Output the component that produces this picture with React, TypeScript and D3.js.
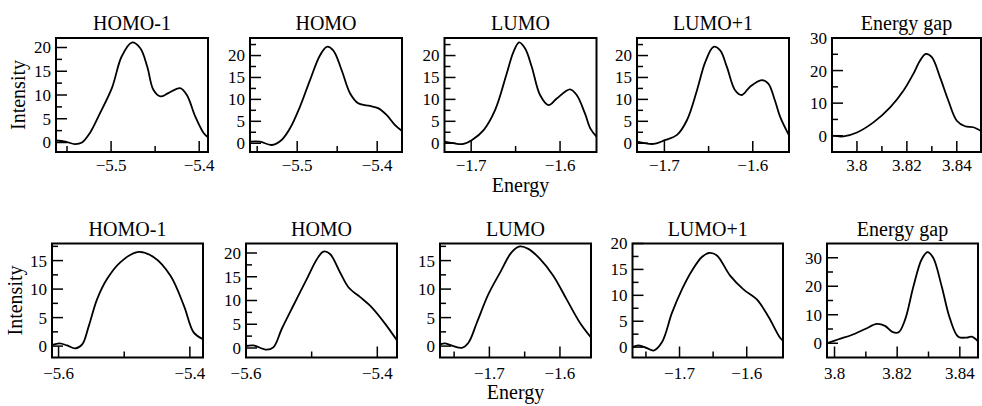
import * as d3 from "d3"

type Pt = [number, number]

const titles = ["HOMO-1", "HOMO", "LUMO", "LUMO+1", "Energy gap"]

// curves: [energy, intensity]
const homo1Top: Pt[] = [
  [-5.5625, 0.42], [-5.552, 0.2], [-5.541, -0.34], [-5.533, 0], [-5.524, 2], [-5.5125, 6.2],
  [-5.499, 11.5], [-5.488, 18.1], [-5.4765, 21.05], [-5.467, 19.9], [-5.459, 16], [-5.452, 11.1],
  [-5.444, 9.7], [-5.435, 10.4], [-5.4216, 11.45], [-5.414, 10], [-5.4045, 5.5], [-5.395, 2], [-5.39, 1.1],
]
const homoTop: Pt[] = [
  [-5.559, 0.36], [-5.5466, 0.36], [-5.532, -0.4], [-5.5195, 0.75], [-5.509, 3.4], [-5.4966, 8.3],
  [-5.484, 14.4], [-5.4716, 20], [-5.463, 22], [-5.455, 21.2], [-5.4445, 16.7], [-5.434, 11.4],
  [-5.4237, 9.1], [-5.409, 8.5], [-5.399, 8], [-5.388, 6.4], [-5.378, 4.2], [-5.369, 2.8],
]
const lumoTop: Pt[] = [
  [-1.73, 0.36], [-1.72, 0], [-1.7087, -0.16], [-1.699, 0.75], [-1.686, 3], [-1.673, 7.6],
  [-1.66, 15.9], [-1.6525, 20.8], [-1.646, 23], [-1.6393, 21.6], [-1.6318, 17.4], [-1.6225, 11],
  [-1.613, 8.7], [-1.6037, 10.2], [-1.5888, 12.3], [-1.5813, 11], [-1.572, 6.8], [-1.566, 3.4], [-1.559, 1.5],
]
const lumo1Top: Pt[] = [
  [-1.7308, 0.36], [-1.712, -0.16], [-1.6989, 0.75], [-1.6857, 1.9], [-1.6744, 5.3], [-1.6631, 12.1],
  [-1.6538, 18.5], [-1.6444, 22], [-1.6369, 21.2], [-1.6293, 17.4], [-1.62, 12.1], [-1.6124, 11],
  [-1.603, 12.9], [-1.5899, 14.4], [-1.5824, 13.6], [-1.575, 9.8], [-1.569, 6], [-1.559, 1.8],
]
const gapTop: Pt[] = [
  [3.79, 0], [3.7946, -0.2], [3.8, 1], [3.8066, 4.1], [3.8133, 8.7], [3.8186, 13.8], [3.8226, 19],
  [3.8253, 23.1], [3.8276, 25.1], [3.83, 24.1], [3.8333, 17.9], [3.8366, 10.8], [3.84, 4.6],
  [3.8433, 2.9], [3.8466, 2.6], [3.85, 1.3],
]
const homo1Bottom: Pt[] = [
  [-5.61, 0.18], [-5.5985, 0.48], [-5.587, 0.12], [-5.5745, -0.4], [-5.564, 0.3], [-5.554, 3.5],
  [-5.5414, 8.2], [-5.526, 11.8], [-5.506, 14.7], [-5.48, 16.5], [-5.455, 15.6], [-5.4295, 12.35],
  [-5.409, 7.06], [-5.394, 2.36], [-5.38, 1.2],
]
const homoBottom: Pt[] = [
  [-5.6, 0.42], [-5.589, 0.55], [-5.5684, -0.36], [-5.558, 0.2], [-5.5456, 4], [-5.528, 8.9],
  [-5.5075, 14.5], [-5.492, 18.7], [-5.482, 20.3], [-5.472, 19.8], [-5.4567, 15.9], [-5.444, 12.8],
  [-5.426, 10.7], [-5.411, 8.9], [-5.39, 5.45], [-5.37, 1.6],
]
const lumoBottom: Pt[] = [
  [-1.7697, 0.3], [-1.7627, 0.48], [-1.751, 0], [-1.739, -0.3], [-1.7297, 0.6], [-1.7178, 4.1],
  [-1.7014, 9.1], [-1.6849, 12.9], [-1.6683, 16.5], [-1.6566, 17.5], [-1.6448, 17.06], [-1.6283, 15.3],
  [-1.6095, 12.35], [-1.5905, 8.2], [-1.5717, 4.1], [-1.556, 1.5],
]
const lumo1Bottom: Pt[] = [
  [-1.77, 0], [-1.761, 0.33], [-1.7484, -0.2], [-1.7386, -0.65], [-1.726, 1], [-1.7113, 6.6],
  [-1.6964, 11.15], [-1.6816, 14.75], [-1.6667, 17.4], [-1.6554, 18.2], [-1.6444, 17.7], [-1.6247, 13.8],
  [-1.6049, 11.15], [-1.585, 9.2], [-1.5678, 5.9], [-1.5514, 2], [-1.546, 1.2],
]
const gapBottom: Pt[] = [
  [3.7976, 0], [3.8013, 1.4], [3.8055, 2.9], [3.8098, 5], [3.8135, 6.8], [3.8161, 6.1], [3.8183, 4.1],
  [3.8204, 3.8], [3.8225, 8.2], [3.8252, 20], [3.8278, 29.4], [3.8297, 32], [3.8315, 30], [3.8342, 20],
  [3.8368, 8.8], [3.8395, 2.3], [3.8422, 2], [3.8438, 2.3], [3.8459, 0.56],
]

// tick values
const homoXTicks = [-5.5, -5.4]
const homoXMinor = [-5.55, -5.45]
const homoXTicksB = [-5.6, -5.4]
const homoXMinorB = [-5.5]
const lumoXTicks = [-1.7, -1.6]
const lumoXMinor = [-1.75, -1.65]
const gapXTicks = [3.8, 3.82, 3.84]
const gapXMinor = [3.81, 3.83]
const yTicks15 = [0, 5, 10, 15]
const yTicks20 = [0, 5, 10, 15, 20]
const yMinor17 = [2.5, 7.5, 12.5, 17.5]
const yMinor22 = [2.5, 7.5, 12.5, 17.5, 22.5]
const gapYTicks = [0, 10, 20, 30]
const gapYMinor = [5, 15, 25]

type Panel = {
  data: Pt[]
  x: [number, number]
  y: [number, number]
  xt: number[]
  xm: number[]
  yt: number[]
  ym: number[]
  box: [number, number]
}

const rows: { top: number; bottom: number; labelDy: number; panels: Panel[] }[] = [
  {
    top: 38, bottom: 152, labelDy: 19,
    panels: [
      { data: homo1Top, x: [-5.5625, -5.39], y: [-2, 22], xt: homoXTicks, xm: homoXMinor, yt: yTicks20, ym: yMinor17, box: [56, 208] },
      { data: homoTop, x: [-5.559, -5.369], y: [-2, 24], xt: homoXTicks, xm: homoXMinor, yt: yTicks20, ym: yMinor22, box: [250, 402] },
      { data: lumoTop, x: [-1.73, -1.559], y: [-2, 24], xt: lumoXTicks, xm: lumoXMinor, yt: yTicks20, ym: yMinor22, box: [444.5, 596.5] },
      { data: lumo1Top, x: [-1.731, -1.559], y: [-2, 24], xt: lumoXTicks, xm: lumoXMinor, yt: yTicks20, ym: yMinor22, box: [637, 789] },
      { data: gapTop, x: [3.79, 3.8497], y: [-5, 30], xt: gapXTicks, xm: gapXMinor, yt: gapYTicks, ym: gapYMinor, box: [832, 981] },
    ],
  },
  {
    top: 243.5, bottom: 357.5, labelDy: 21,
    panels: [
      { data: homo1Bottom, x: [-5.61, -5.38], y: [-2, 18], xt: homoXTicksB, xm: homoXMinorB, yt: yTicks15, ym: yMinor17, box: [52, 203] },
      { data: homoBottom, x: [-5.6, -5.37], y: [-2, 22], xt: homoXTicksB, xm: homoXMinorB, yt: yTicks20, ym: yMinor17, box: [246, 397] },
      { data: lumoBottom, x: [-1.77, -1.556], y: [-2, 18], xt: lumoXTicks, xm: lumoXMinor, yt: yTicks15, ym: yMinor17, box: [440, 591] },
      { data: lumo1Bottom, x: [-1.77, -1.546], y: [-2, 20], xt: lumoXTicks, xm: lumoXMinor, yt: yTicks20, ym: yMinor17, box: [632.5, 783] },
      { data: gapBottom, x: [3.7976, 3.8458], y: [-5, 35], xt: gapXTicks, xm: gapXMinor, yt: gapYTicks, ym: gapYMinor, box: [827, 978] },
    ],
  },
]

const FONT = "'Liberation Serif', 'DejaVu Serif', serif"
const fmt = (v: number) => (v < 0 ? "\u2212" : "") + Math.abs(v).toString()

export default function App() {
  return (
    <svg width={982} height={406} style={{ position: "absolute", left: 0, top: 0, background: "#fff" }} fontFamily={FONT}>
      {rows.map((row, ri) => (
        <g key={ri}>
          {row.panels.map((p, pi) => {
            const x = d3.scaleLinear().domain(p.x).range(p.box)
            const y = d3.scaleLinear().domain(p.y).range([row.bottom, row.top])
            const line = d3
              .line<Pt>()
              .x((d) => x(d[0]))
              .y((d) => y(d[1]))
              .curve(d3.curveCatmullRom.alpha(0.5))
            const clipId = `clip-${ri}-${pi}`
            const inX = (v: number) => x(v) > p.box[0] + 1 && x(v) < p.box[1] - 1
            return (
              <g key={pi}>
                <clipPath id={clipId}>
                  <rect x={p.box[0]} y={row.top} width={p.box[1] - p.box[0]} height={row.bottom - row.top} />
                </clipPath>
                <text x={(p.box[0] + p.box[1]) / 2} y={row.top - 8} textAnchor="middle" fontSize={20}>
                  {titles[pi]}
                </text>
                <path d={line(p.data) ?? ""} fill="none" stroke="#000" strokeWidth={1.8} clipPath={`url(#${clipId})`} />
                {p.xt.map((v) => (
                  <g key={`xt${v}`}>
                    {inX(v) && <line x1={x(v)} x2={x(v)} y1={row.bottom} y2={row.bottom - 11} stroke="#000" strokeWidth={1.5} />}
                    <text x={x(v)} y={row.bottom + row.labelDy} textAnchor="middle" fontSize={17}>
                      {fmt(v)}
                    </text>
                  </g>
                ))}
                {p.xm.filter(inX).map((v) => (
                  <line key={`xm${v}`} x1={x(v)} x2={x(v)} y1={row.bottom} y2={row.bottom - 6} stroke="#000" strokeWidth={1.5} />
                ))}
                {p.yt.map((v) => (
                  <g key={`yt${v}`}>
                    <line x1={p.box[0]} x2={p.box[0] + 11} y1={y(v)} y2={y(v)} stroke="#000" strokeWidth={1.5} />
                    <text x={p.box[0] - 5} y={y(v)} dy="0.35em" textAnchor="end" fontSize={17}>
                      {fmt(v)}
                    </text>
                  </g>
                ))}
                {p.ym.filter((v) => v < p.y[1]).map((v) => (
                  <line key={`ym${v}`} x1={p.box[0]} x2={p.box[0] + 6} y1={y(v)} y2={y(v)} stroke="#000" strokeWidth={1.5} />
                ))}
                <rect
                  x={p.box[0]}
                  y={row.top}
                  width={p.box[1] - p.box[0]}
                  height={row.bottom - row.top}
                  fill="none"
                  stroke="#000"
                  strokeWidth={2}
                />
              </g>
            )
          })}
          <text
            transform={`translate(${ri === 0 ? 25 : 22},${(row.top + row.bottom) / 2}) rotate(-90)`}
            textAnchor="middle"
            fontSize={20}
          >
            Intensity
          </text>
          <text
            x={(row.panels[2].box[0] + row.panels[2].box[1]) / 2}
            y={row.bottom + (ri === 0 ? 40 : 41)}
            textAnchor="middle"
            fontSize={20}
          >
            Energy
          </text>
        </g>
      ))}
    </svg>
  )
}
